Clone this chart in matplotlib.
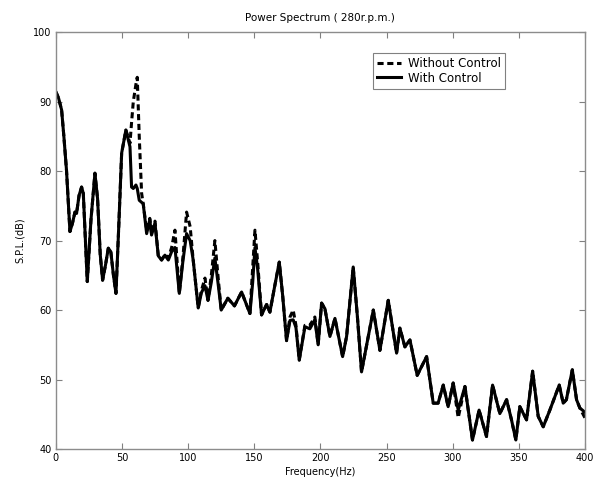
import numpy as np
import matplotlib
matplotlib.use('Agg')
import matplotlib.pyplot as plt

# frequency grid (Hz) and S.P.L. (dB)
freq = [0, 2, 4.3, 6, 8, 10.6, 12.5, 14.4, 15.6, 17.5, 19.4, 20.7, 22.3, 23.7, 26.5, 29.5,
        31.5, 33.5, 35.3, 37.5, 39.6, 41.5, 43.5, 45.4, 47.5, 49.7, 52.9, 56, 57.2, 58.5,
        60.5, 61.5, 63, 64.8, 66, 68.6, 71, 72.3, 74.9, 77.4, 79.9, 82.4, 85, 87.5, 90,
        93.3, 96, 98.8, 101.5, 103.8, 107.6, 110, 112.7, 115, 117.5, 120.2, 122.5, 125,
        130, 135, 140.4, 146.7, 148.8, 150.5, 152.5, 155.5, 159.3, 161.8, 165.5, 168.9,
        171.5, 174.4, 177, 179.4, 181.5, 184, 188.3, 192, 195.8, 198.3, 200.9, 203.4,
        207.2, 211, 216.8, 219.8, 224.8, 228, 231.1, 235, 240, 245, 251.3, 257.6, 260.1,
        263.9, 267.7, 273.2, 277.7, 280.3, 285.3, 289, 292.9, 296.6, 300.4, 304.2, 309.3,
        315, 320, 325.6, 330.2, 335.7, 340.8, 344.5, 347.8, 350.8, 355.9, 360.5, 364.7,
        368.5, 373.5, 380.6, 383.6, 386, 390.5, 393.7, 396.2, 400]

with_ctrl = [91.4, 90.5, 88.8, 85, 80.1, 71.3, 72.5, 74.1, 73.9, 76.5, 77.7, 76.8, 70, 64.1, 73, 79.7,
             76, 68, 64.3, 66.5, 68.9, 68.4, 65, 62.4, 72, 82.6, 85.9, 83.5, 77.7, 77.5,
             78, 77.5, 75.8, 75.5, 75.3, 71, 73, 70.8, 72.5, 67.8, 67.2, 67.9, 67.2, 68.4, 69,
             62.4, 67, 71, 70, 67.2, 60.3, 62.5, 63.5, 61.4, 64, 67.5, 64, 60,
             61.7, 60.6, 62.6, 59.5, 64, 69, 66, 59.3, 60.8, 59.7, 63.5, 66.9,
             62, 55.6, 58.5, 58.6, 57.5, 52.8, 57.6, 57.3, 58.6, 55, 61, 60.2,
             56.2, 58.8, 53.3, 56.2, 66.2, 59, 51.1, 55, 60, 54.2, 61.4, 53.8, 57.4,
             54.7, 55.7, 50.6, 52.3, 53.3, 46.6, 46.6, 49.2, 46.1, 49.5, 45.6, 49,
             41.3, 45.6, 41.8, 49.2, 45.1, 47.1, 44.2, 41.3, 46.1, 44.2, 51.2, 44.7,
             43.2, 45.6, 49.2, 46.6, 47.1, 51.4, 47.1, 45.9, 45.3]

without_ctrl = [91.4, 90.5, 88.8, 85, 80.1, 71.3, 72.5, 74.1, 73.9, 76.5, 77.7, 76.8, 70, 64.1, 73, 79.7,
                76, 68, 64.3, 66.5, 68.9, 68.4, 65, 62.4, 72, 82.6, 85.9, 84, 87, 90,
                92.5, 93.5, 85, 76.8, 75.3, 71.5, 73.2, 71, 72.8, 67.8, 67.2, 68, 67.5, 69, 71.5,
                62.4, 67.5, 74.1, 72, 67.2, 60.3, 62.8, 64.6, 61.4, 65, 70, 65, 60,
                61.7, 60.6, 62.6, 59.5, 66, 71.5, 67, 59.3, 60.8, 59.7, 63.5, 66.9,
                62, 55.6, 59, 60, 57.8, 52.8, 57.8, 57.8, 59, 55, 61, 60.2,
                56.2, 58.8, 53.3, 56.2, 66.2, 59, 51.1, 55, 60, 54.2, 61.4, 53.8, 57.4,
                54.7, 55.7, 50.6, 52.3, 53.3, 46.6, 46.6, 49.2, 46.1, 49.5, 44.5, 49,
                41.3, 45.6, 41.8, 49.2, 45.1, 47.1, 44.2, 41.3, 46.1, 44.2, 51.2, 44.7,
                43.2, 45.6, 49.2, 46.6, 47.1, 51.4, 47.1, 45.9, 44.5]

plt.rcParams['font.family'] = ['DejaVu Sans']
plt.rcParams['font.size'] = 7

fig = plt.figure(figsize=(5.95, 4.87), dpi=100)
ax = fig.add_axes([0.094, 0.078, 0.889, 0.856])

ax.plot(freq, without_ctrl, color='black', lw=2.2, ls=(0, (2, 1.2)), label='Without Control')
ax.plot(freq, with_ctrl, color='black', lw=2.2, label='With Control')

ax.set_xlim(0, 400)
ax.set_ylim(40, 100)
ax.set_xticks(np.arange(0, 401, 50))
ax.set_yticks(np.arange(40, 101, 10))
ax.tick_params(direction='in', top=True, right=True, length=4, color='0.5', labelsize=7, pad=3)
for s in ax.spines.values():
    s.set_color('0.55')
    s.set_linewidth(1)

ax.set_title('Power Spectrum ( 280r.p.m.)', fontsize=7.5, pad=8)
ax.set_xlabel('Frequency(Hz)', fontsize=7, labelpad=3)
ax.set_ylabel('S.P.L.(dB)', fontsize=7, labelpad=6)

leg = ax.legend(loc='upper right', bbox_to_anchor=(0.86, 0.965), fontsize=8.5, fancybox=False,
                edgecolor='0.5', framealpha=1, handlelength=2.0, borderpad=0.35, labelspacing=0.15,
                handletextpad=0.6)
leg.get_frame().set_linewidth(0.8)

fig.savefig('out.png', dpi=100)
